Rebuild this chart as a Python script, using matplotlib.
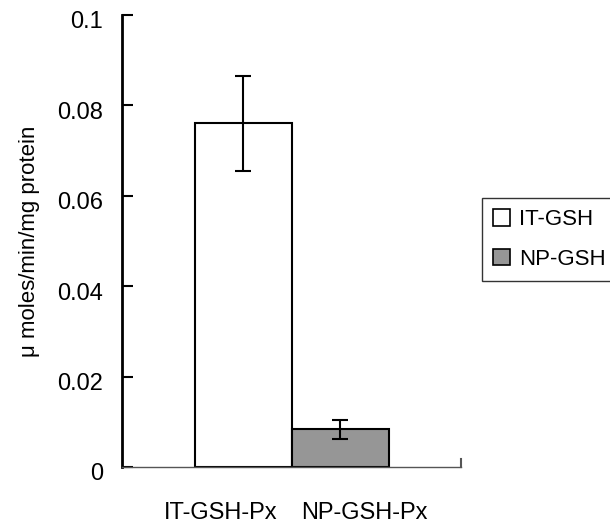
import matplotlib
matplotlib.use('Agg')
import matplotlib.pyplot as plt
import matplotlib.transforms as mtransforms
from matplotlib.patches import Patch

# data
groups = ['IT-GSH-Px', 'NP-GSH-Px']
series = ['IT-GSH', 'NP-GSH']
values = [0.0760, 0.0084]
errors = [0.0105, 0.0021]
colors = ['white', '#969696']
y_ticks = [0, 0.02, 0.04, 0.06, 0.08, 0.1]
y_tick_labels = ['0', '0.02', '0.04', '0.06', '0.08', '0.1']

plt.rcParams['font.family'] = ['Liberation Sans', 'DejaVu Sans']

fig = plt.figure(figsize=(6.1, 5.26), dpi=100)
ax = fig.add_axes([0.2008, 0.1122, 0.5549, 0.8593])

x = [0, 1]
ax.bar(x, values, width=1.0, color=colors, edgecolor='black', linewidth=1.5, zorder=2)
ax.errorbar(x, values, yerr=errors, fmt='none', ecolor='black', elinewidth=1.5,
            capsize=6, capthick=1.5, zorder=3)

ax.set_xlim(-1.246, 2.246)
ax.set_ylim(0, 0.1)

ax.set_yticks(y_ticks)
ax.set_yticklabels(y_tick_labels, fontsize=17)
ax.tick_params(axis='y', direction='in', length=8, width=1.5, pad=14)
# labels sit a little below their ticks in the original
offset = mtransforms.ScaledTranslation(0, -5 / 100, fig.dpi_scale_trans)
for lbl in ax.get_yticklabels():
    lbl.set_transform(lbl.get_transform() + offset)

# category text is set slightly apart from the bar centres in the original
ax.set_xticks([-0.23, 1.25])
ax.set_xticklabels(groups, fontsize=17)
ax.tick_params(axis='x', length=0, pad=25)

ax.spines['top'].set_visible(False)
ax.spines['right'].set_visible(False)
ax.spines['left'].set_linewidth(2)
ax.spines['bottom'].set_linewidth(1)
ax.spines['bottom'].set_color('#555555')
# small category boundary tick at the right end
ax.plot([2.246, 2.246], [0, 0.0018], color='#555555', linewidth=1.5, clip_on=False)

ax.set_ylabel('\u03bc moles/min/mg protein', fontsize=16, labelpad=12)

handles = [Patch(facecolor=c, edgecolor='black', linewidth=1.2) for c in colors]
leg = fig.legend(handles, series, loc='upper left', bbox_to_anchor=(482 / 610, 1 - 198 / 526),
                 fontsize=16, frameon=True, fancybox=False, edgecolor='black',
                 handlelength=0.75, handleheight=0.75, handletextpad=0.4,
                 borderpad=0.5, labelspacing=0.85, borderaxespad=0)
leg.get_frame().set_linewidth(1)

plt.savefig('out.png', dpi=100)
